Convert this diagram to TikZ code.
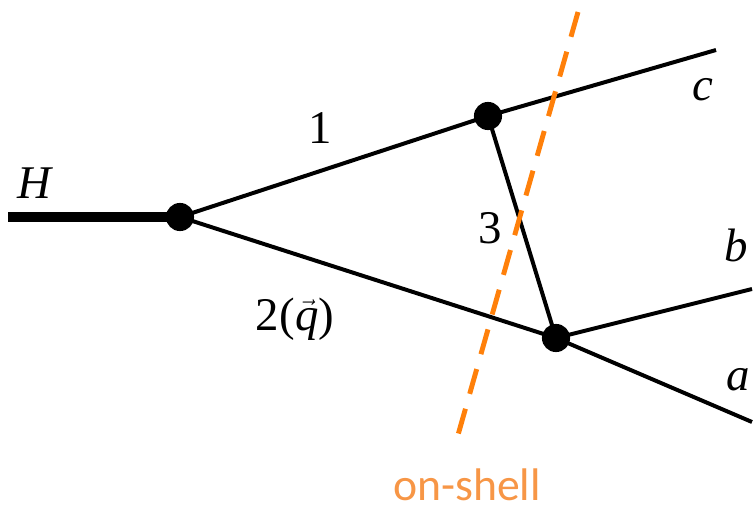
\documentclass[tikz,border=0pt]{standalone}
\usepackage{fontspec}
\setmainfont{Liberation Serif}
\newfontfamily\calib{Carlito}
\begin{document}
\begin{tikzpicture}[x=0.03cm,y=-0.03cm,
  prop/.style={line width=3.4pt},
  higgs/.style={line width=9pt},
  vtx/.style={circle,fill=black,inner sep=0pt,minimum size=24pt},
  lbl/.style={font=\fontsize{40}{42}\selectfont,inner sep=0pt},
  cut/.style={line width=4.2pt,color=cutorange,dash pattern=on 22pt off 13.2pt}]
\definecolor{cutorange}{RGB}{255,128,10}
\definecolor{textorange}{RGB}{247,150,70}
\useasboundingbox (0,0) rectangle (755,508);
\coordinate (h0) at (8,217);
\coordinate (ec) at (716,50);
\coordinate (eb) at (752,289);
\coordinate (ea) at (752,422);
\coordinate (d1) at (578,12);
\coordinate (d2) at (458,435);
\node[vtx] (A) at (180,217) {};
\node[vtx] (B) at (488,116) {};
\node[vtx] (C) at (556,338) {};
\draw[higgs] (h0) -- (A.center);
\draw[prop] (A.center) -- (B.center);
\draw[prop] (A.center) -- (C.center);
\draw[prop] (B.center) -- (C.center);
\draw[prop] (B.center) -- (ec);
\draw[prop] (C.center) -- (eb);
\draw[prop] (C.center) -- (ea);
\draw[cut] (d1) -- (d2);
\node[lbl] (lH) at (35,183) {\textit{H}};
\node[lbl] (l1) at (320,128) {1};
\node[lbl] (l3) at (490,228) {3};
\node[lbl] (l2) at (295,319) {2($\vec{\mbox{\textit{q}}}$)};
\node[lbl] (lc) at (703,90) {\textit{c}};
\node[lbl] (lb) at (736,245) {\textit{b}};
\node[lbl] (la) at (738,380) {\textit{a}};
\node[font=\calib\fontsize{39}{40}\selectfont, text=textorange, inner sep=0pt] (os) at (467,485) {on-shell};
\end{tikzpicture}
\end{document}
